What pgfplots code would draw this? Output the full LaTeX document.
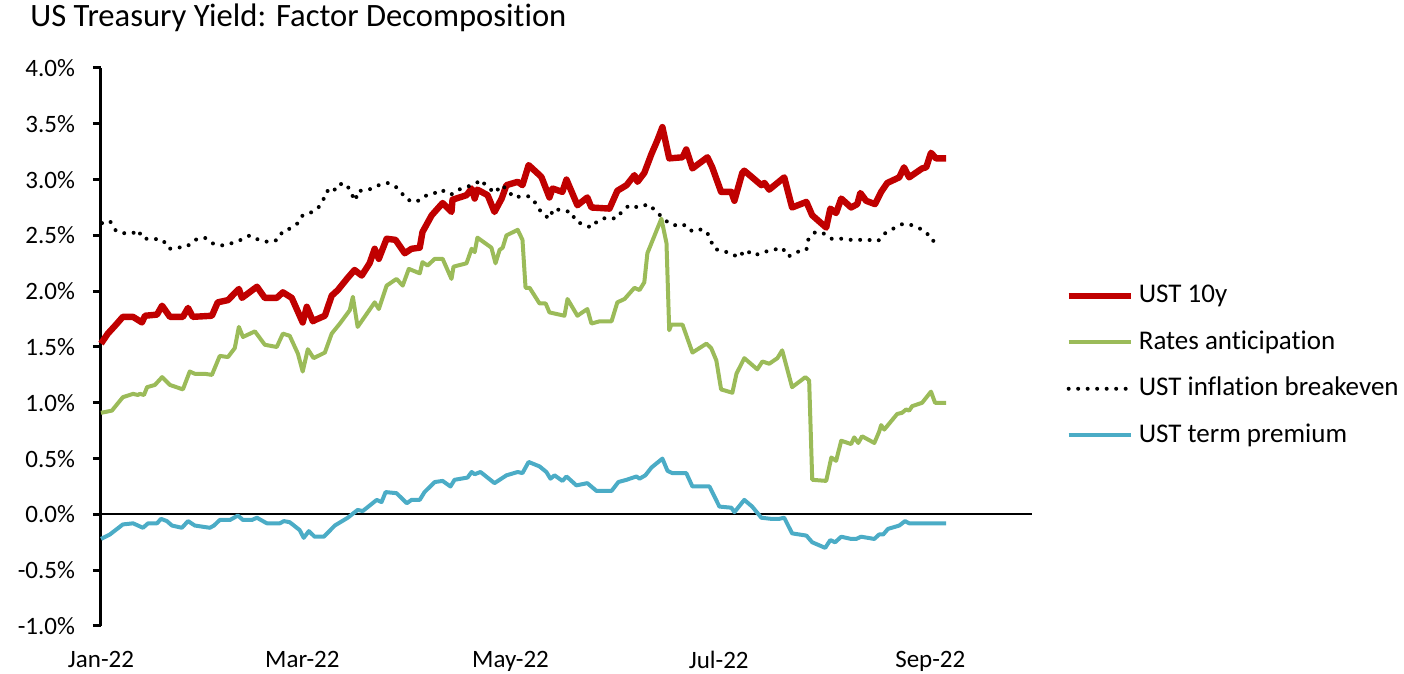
\documentclass[border=0pt]{standalone}
\usepackage{fontspec}
\setmainfont{Carlito}[Ligatures=NoCommon]
\usepackage{pgfplots}
\pgfplotsset{compat=1.18}
\definecolor{cRed}{HTML}{C00000}
\definecolor{cGreen}{HTML}{9BBB59}
\definecolor{cBlue}{HTML}{4BACC6}
\begin{document}
\begin{tikzpicture}
\path[use as bounding box] (-50.5pt,-24pt) rectangle (651.5pt,313pt);
\begin{axis}[
  at={(0pt,0pt)}, anchor=south west,
  scale only axis, width=465.5pt, height=279pt,
  xmin=0, xmax=272.8, ymin=-1, ymax=4,
  enlargelimits=false,
  axis y line*=left, axis x line*=bottom,
  axis line style={-},
  y axis line style={line width=1.5pt, black},
  x axis line style={draw=none},
  ytick={-1,-0.5,0,0.5,1,1.5,2,2.5,3,3.5,4},
  yticklabel={\pgfmathprintnumber[fixed,fixed zerofill,precision=1]{\tick}\%},
  xtick={0,59,120,181,243},
  xticklabels={Jan-22,Mar-22,May-22,Jul-22,Sep-22},
  tick align=outside,
  y tick style={line width=1.5pt, black},
  x tick style={draw=none},
  major tick length=4pt,
  /pgf/number format/assume math mode=true,
  tick label style={font=\fontsize{12.5}{15}\selectfont},
  yticklabel style={xshift=-5.5pt},
  xticklabel style={yshift=-5pt},
  clip=false,
  legend style={at={(axis description cs:1.0355,0.4668)}, anchor=west, draw=none, fill=none, inner sep=0pt,
    font=\fontsize{13.5}{16}\selectfont, row sep=6.25pt,
    nodes={inner sep=2.5pt, text height=9.5pt, text depth=2.5pt}},
  legend cell align=left,
  legend image code/.code={\draw[#1] (0pt,0pt) -- (31pt,0pt);},
]
\addplot[black, line width=1pt, forget plot] coordinates {(0,0) (272.8,0)};
\addplot[cRed, line width=3.2pt, line join=round] coordinates {
(0,1.53) (2.0,1.62) (4.1,1.69) (6.4,1.77) (9.4,1.77) (12.0,1.72) (12.9,1.78) (16.4,1.79) (17.9,1.87) (20.2,1.77)
(24.0,1.77) (25.5,1.85) (26.9,1.77) (32.5,1.78) (34.2,1.90) (37.2,1.92) (40.4,2.02) (41.3,1.94) (45.7,2.04) (48.0,1.94)
(51.5,1.94) (53.3,1.99) (55.9,1.94) (59.1,1.72) (60.3,1.86) (62.1,1.73) (62.6,1.74) (65.6,1.78) (67.6,1.96) (69.4,2.01)
(72.3,2.12) (74.3,2.19) (76.4,2.14) (78.7,2.25) (80.2,2.38) (81.4,2.29) (83.7,2.47) (86.3,2.46) (89.0,2.34) (91.0,2.38)
(93.4,2.39) (94.2,2.53) (96.9,2.68) (100.1,2.79) (102.7,2.71) (103.0,2.82) (107.1,2.86) (108.6,2.92) (109.5,2.83) (110.3,2.91)
(113.3,2.86) (115.3,2.71) (117.4,2.83) (118.8,2.95) (122.1,2.98) (123.5,2.95) (125.3,3.13) (128.5,3.04) (129.1,3.02) (131.4,2.84)
(132.3,2.92) (135.2,2.89) (136.4,3.00) (139.6,2.77) (142.5,2.84) (143.7,2.75) (149.0,2.74) (151.3,2.90) (154.0,2.95) (156.3,3.04)
(157.2,2.98) (159.2,3.06) (161.3,3.23) (163.0,3.35) (164.5,3.47) (166.5,3.19) (170.4,3.20) (171.5,3.27) (173.3,3.10) (177.7,3.20)
(179.1,3.11) (181.7,2.89) (184.7,2.89) (185.6,2.81) (187.9,3.06) (188.5,3.08) (193.5,2.95) (194.4,2.97) (195.8,2.91) (200.2,3.02)
(202.5,2.75) (206.7,2.80) (208.4,2.68) (212.5,2.57) (213.7,2.74) (215.4,2.70) (216.9,2.83) (219.8,2.75) (221.6,2.78) (222.5,2.88)
(224.2,2.81) (226.8,2.78) (228.6,2.89) (230.4,2.97) (233.9,3.02) (235.3,3.11) (236.8,3.02) (240.6,3.10) (241.8,3.11) (243.2,3.24)
(244.7,3.19) (247.6,3.19)};
\addlegendentry{UST 10y}
\addplot[cGreen, line width=2pt, line join=round] coordinates {
(0,0.91) (3.2,0.93) (6.4,1.05) (9.4,1.08) (10.8,1.07) (11.4,1.08) (12.6,1.07) (13.5,1.14) (15.8,1.16) (17.9,1.23)
(20.2,1.16) (24.0,1.12) (26.0,1.28) (27.5,1.26) (30.4,1.26) (32.5,1.25) (34.8,1.42) (37.2,1.41) (39.2,1.49) (40.4,1.68)
(41.6,1.59) (45.1,1.64) (48.0,1.52) (51.5,1.50) (53.3,1.62) (55.3,1.60) (57.7,1.44) (59.1,1.28) (60.6,1.48) (62.3,1.40)
(65.6,1.45) (67.6,1.62) (70.0,1.71) (72.9,1.83) (73.8,1.95) (75.2,1.68) (80.2,1.90) (81.4,1.84) (83.7,2.05) (86.6,2.11)
(88.4,2.05) (90.2,2.20) (93.4,2.16) (94.2,2.26) (95.7,2.23) (97.8,2.29) (100.1,2.29) (102.7,2.11) (103.3,2.22) (107.1,2.25)
(108.6,2.38) (109.5,2.35) (110.3,2.48) (114.4,2.39) (115.6,2.25) (116.8,2.37) (117.7,2.39) (118.8,2.50) (122.1,2.55) (123.5,2.46)
(124.4,2.03) (125.6,2.03) (128.5,1.89) (130.3,1.89) (131.4,1.81) (135.8,1.78) (136.7,1.93) (139.6,1.78) (142.5,1.84) (143.7,1.71)
(146.1,1.73) (149.6,1.73) (151.3,1.90) (153.4,1.93) (156.3,2.03) (157.8,2.01) (159.2,2.08) (160.1,2.34) (164.2,2.65) (165.7,2.43)
(166.5,1.65) (167.1,1.70) (170.4,1.70) (173.3,1.45) (177.4,1.53) (178.8,1.49) (180.3,1.38) (181.7,1.12) (185.0,1.09) (186.2,1.26)
(188.5,1.40) (192.3,1.30) (193.8,1.37) (195.8,1.35) (198.2,1.40) (199.6,1.47) (202.5,1.14) (206.4,1.23) (207.5,1.20) (208.4,0.31)
(212.5,0.30) (214.0,0.51) (215.4,0.48) (216.9,0.66) (219.8,0.63) (220.7,0.69) (221.9,0.64) (223.0,0.70) (226.6,0.64) (228.0,0.74)
(228.6,0.80) (229.5,0.76) (233.3,0.90) (234.7,0.91) (235.9,0.94) (236.8,0.93) (237.7,0.97) (240.6,1.00) (243.2,1.10) (244.4,1.00)
(247.6,1.00)};
\addlegendentry{Rates anticipation}
\addplot[black, line width=2pt, line cap=round, dash pattern=on 0pt off 4.75pt] coordinates {
(0.3,2.61) (2.6,2.63) (4.4,2.54) (6.4,2.52) (9.4,2.52) (10.8,2.55) (12.3,2.47) (15.2,2.47) (18.1,2.46) (19.9,2.38)
(22.5,2.39) (25.2,2.40) (27.5,2.46) (30.4,2.48) (32.5,2.43) (35.4,2.41) (38.3,2.43) (41.0,2.46) (43.6,2.50) (46.2,2.46)
(49.2,2.44) (51.8,2.46) (53.3,2.54) (55.3,2.56) (57.7,2.61) (59.1,2.68) (61.2,2.70) (63.5,2.74) (65.0,2.81) (66.2,2.90)
(67.9,2.88) (69.4,2.96) (72.0,2.96) (73.2,2.88) (74.6,2.81) (75.2,2.90) (76.7,2.90) (79.6,2.92) (82.0,2.96) (84.3,2.97)
(86.6,2.93) (88.1,2.88) (89.6,2.82) (92.5,2.80) (94.5,2.85) (97.2,2.87) (99.8,2.91) (101.6,2.87) (103.0,2.87) (104.8,2.91)
(107.7,2.94) (110.1,2.97) (111.2,3.00) (113.3,2.93) (115.6,2.88) (117.1,2.95) (118.8,2.92) (120.9,2.84) (123.2,2.85) (125.6,2.85)
(127.6,2.78) (129.1,2.70) (131.4,2.65) (132.6,2.74) (135.5,2.72) (137.9,2.71) (139.0,2.63) (141.1,2.60) (143.7,2.57) (145.5,2.63)
(148.1,2.66) (151.0,2.65) (152.8,2.72) (154.8,2.77) (157.5,2.75) (160.4,2.78) (162.5,2.72) (164.5,2.66) (166.0,2.62) (167.7,2.59)
(170.6,2.60) (172.7,2.54) (174.5,2.56) (177.4,2.54) (178.6,2.46) (179.7,2.38) (182.1,2.36) (184.7,2.34) (186.8,2.30) (188.8,2.37)
(191.4,2.32) (194.1,2.35) (197.0,2.37) (199.6,2.39) (201.4,2.31) (203.7,2.35) (206.7,2.37) (207.2,2.46) (209.3,2.53) (211.6,2.52)
(214.0,2.47) (216.9,2.47) (219.8,2.46) (222.2,2.46) (224.8,2.46) (227.7,2.45) (229.8,2.52) (232.1,2.56) (234.7,2.60) (236.8,2.60)
(239.4,2.57) (241.8,2.53) (243.5,2.45) (246.2,2.46)};
\addlegendentry{UST inflation breakeven}
\addplot[cBlue, line width=2pt, line join=round] coordinates {
(0,-0.22) (2.6,-0.18) (6.4,-0.09) (9.4,-0.08) (12.3,-0.12) (13.8,-0.08) (16.4,-0.08) (17.6,-0.04) (19.3,-0.06) (20.8,-0.10)
(23.7,-0.12) (25.5,-0.06) (27.5,-0.10) (31.9,-0.12) (33.1,-0.10) (34.8,-0.05) (37.8,-0.05) (40.1,-0.01) (41.6,-0.05) (44.2,-0.05)
(45.7,-0.03) (48.6,-0.08) (52.4,-0.08) (53.6,-0.06) (55.3,-0.07) (58.2,-0.14) (59.4,-0.21) (60.9,-0.15) (62.6,-0.20) (65.3,-0.20)
(68.5,-0.10) (72.3,-0.03) (75.2,0.04) (76.7,0.03) (80.8,0.13) (82.2,0.11) (83.4,0.20) (86.6,0.19) (89.6,0.10) (91.0,0.13)
(93.4,0.13) (94.8,0.20) (97.8,0.29) (100.1,0.30) (102.4,0.25) (103.6,0.31) (107.4,0.33) (108.6,0.38) (109.5,0.36) (111.2,0.38)
(115.3,0.28) (118.8,0.35) (122.1,0.38) (123.5,0.37) (125.3,0.47) (128.5,0.43) (130.5,0.38) (131.7,0.32) (132.9,0.35) (135.2,0.30)
(136.4,0.34) (139.3,0.26) (142.5,0.28) (145.2,0.21) (149.6,0.21) (151.6,0.29) (154.0,0.31) (156.9,0.34) (157.8,0.32) (159.5,0.35)
(161.3,0.42) (164.5,0.50) (166.0,0.39) (167.4,0.37) (171.5,0.37) (173.3,0.25) (178.3,0.25) (181.2,0.07) (184.7,0.06) (185.6,0.02)
(188.5,0.13) (190.8,0.07) (193.5,-0.03) (196.4,-0.04) (198.7,-0.04) (200.2,-0.03) (202.5,-0.17) (206.7,-0.19) (208.4,-0.25) (212.2,-0.30)
(213.7,-0.23) (215.1,-0.25) (216.9,-0.20) (219.8,-0.22) (221.3,-0.22) (222.7,-0.20) (226.6,-0.22) (228.0,-0.18) (229.2,-0.18) (230.6,-0.13)
(233.9,-0.10) (235.6,-0.06) (236.8,-0.08) (247.6,-0.08)};
\addlegendentry{UST term premium}
\end{axis}
\node[anchor=west, inner sep=0pt, font=\fontsize{16.3}{19}\selectfont] at (-35.5pt,304pt) {US Treasury Yield: Factor Decomposition};
\end{tikzpicture}
\end{document}
